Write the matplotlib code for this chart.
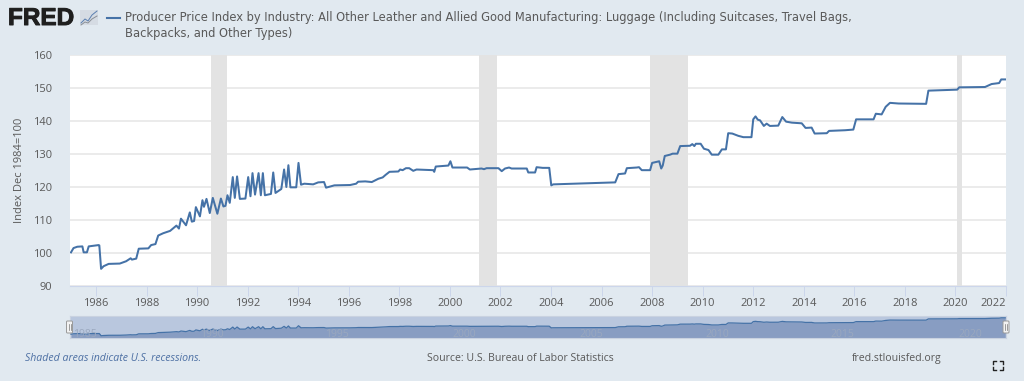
#!/usr/bin/env python3
"""FRED chart: PPI for luggage manufacturing, with recession bands and navigator."""

import matplotlib

matplotlib.use("agg")
import matplotlib.pyplot as plt
import matplotlib.patheffects as pe
from matplotlib.patches import FancyBboxPatch, Rectangle

plt.rcParams["font.family"] = ["Open Sans", "DejaVu Sans"]

W, H = 1024, 381
BG = "#e1e9f0"
LINE = "#4572a7"
TEXT = "#595959"
GRID = "#e6e6e6"
BAND = "#e3e3e3"

years = [
    1985.01, 1985.11, 1985.26, 1985.46, 1985.51, 1985.64, 1985.71, 1985.91, 1986.1, 1986.13,
    1986.2, 1986.3, 1986.5, 1986.94, 1987.19, 1987.37, 1987.42, 1987.59, 1987.69, 1988.07,
    1988.18, 1988.35, 1988.46, 1988.66, 1988.93, 1989.18, 1989.28, 1989.36, 1989.56, 1989.71,
    1989.79, 1989.88, 1989.95, 1990.11, 1990.21, 1990.27, 1990.37, 1990.5, 1990.62, 1990.8,
    1990.94, 1991.04, 1991.12, 1991.2, 1991.29, 1991.41, 1991.49, 1991.58, 1991.69, 1991.91,
    1992.02, 1992.11, 1992.19, 1992.29, 1992.43, 1992.52, 1992.6, 1992.68, 1992.92, 1993.01,
    1993.1, 1993.33, 1993.44, 1993.53, 1993.61, 1993.69, 1993.92, 1994.01, 1994.11, 1994.24,
    1994.59, 1994.79, 1995.02, 1995.1, 1995.43, 1996.05, 1996.29, 1996.37, 1996.65, 1996.91,
    1997.17, 1997.34, 1997.46, 1997.61, 1997.96, 1998.03, 1998.13, 1998.26, 1998.39, 1998.55,
    1998.68, 1999.34, 1999.38, 1999.44, 1999.94, 2000.02, 2000.1, 2000.68, 2000.79, 2001.25,
    2001.35, 2001.45, 2001.92, 2002.05, 2002.18, 2002.34, 2002.44, 2003.04, 2003.1, 2003.37,
    2003.43, 2003.67, 2003.93, 2004.01, 2004.09, 2004.88, 2005.67, 2006.54, 2006.67, 2006.93,
    2007.0, 2007.39, 2007.48, 2007.59, 2007.92, 2008.0, 2008.28, 2008.36, 2008.42, 2008.5,
    2008.71, 2008.81, 2009.0, 2009.11, 2009.5, 2009.59, 2009.67, 2009.73, 2009.92, 2010.05,
    2010.23, 2010.36, 2010.62, 2010.76, 2010.92, 2011.01, 2011.17, 2011.41, 2011.61, 2011.93,
    2012.0, 2012.09, 2012.18, 2012.27, 2012.42, 2012.53, 2012.66, 2012.99, 2013.15, 2013.3,
    2013.53, 2013.92, 2014.07, 2014.31, 2014.43, 2014.91, 2015.0, 2015.63, 2015.96, 2016.07,
    2016.76, 2016.85, 2017.08, 2017.24, 2017.41, 2017.75, 2018.84, 2018.93, 2020.07, 2020.15,
    2021.17, 2021.43, 2021.73, 2021.81, 2021.97,
]
index_values = [
    100.2, 101.5, 101.9, 102.0, 100.2, 100.2, 102.0, 102.2, 102.4, 102.3,
    95.2, 96.0, 96.7, 96.8, 97.5, 98.4, 98.0, 98.3, 101.3, 101.4,
    102.4, 102.7, 105.3, 106.0, 106.7, 108.3, 107.4, 110.4, 108.4, 112.3,
    109.5, 109.7, 113.9, 111.1, 116.0, 114.0, 116.4, 112.1, 116.7, 111.9,
    116.5, 114.1, 114.3, 117.5, 115.2, 123.0, 116.7, 123.2, 116.4, 116.5,
    123.0, 117.2, 124.2, 117.7, 124.2, 117.5, 124.2, 117.5, 117.9, 124.4,
    118.2, 119.4, 125.3, 120.0, 126.6, 119.9, 119.9, 127.3, 120.7, 121.0,
    120.8, 121.4, 121.5, 119.8, 120.5, 120.6, 121.0, 121.6, 121.7, 121.5,
    122.5, 122.9, 123.7, 124.6, 124.7, 125.3, 125.1, 125.7, 125.7, 124.9,
    125.3, 125.1, 124.6, 126.2, 126.5, 127.8, 125.9, 125.9, 125.3, 125.6,
    125.4, 125.7, 125.7, 124.8, 125.6, 125.9, 125.6, 125.6, 124.4, 124.4,
    126.0, 125.8, 125.8, 120.5, 120.8, 121.0, 121.2, 121.4, 123.9, 124.1,
    125.7, 125.9, 126.0, 125.1, 125.1, 127.3, 127.8, 125.6, 126.5, 129.4,
    129.8, 130.1, 130.1, 132.4, 132.5, 133.0, 132.4, 133.1, 133.1, 131.6,
    131.2, 129.8, 129.8, 131.4, 131.4, 136.3, 136.2, 135.5, 135.1, 135.1,
    140.5, 141.4, 140.4, 140.2, 138.5, 139.2, 138.5, 138.6, 141.2, 139.8,
    139.5, 139.3, 137.9, 138.0, 136.2, 136.3, 137.0, 137.2, 137.4, 140.5,
    140.5, 142.2, 142.0, 144.3, 145.5, 145.3, 145.2, 149.2, 149.5, 150.2,
    150.3, 151.2, 151.5, 152.6, 152.6,
]

recession_starts = [1990.55, 2001.15, 2007.92, 2020.06]
recession_ends = [1991.17, 2001.85, 2009.42, 2020.24]
x_ticks = list(range(1986, 2023, 2))
y_ticks = [90, 100, 110, 120, 130, 140, 150, 160]
nav_labels = ["1985", "1990", "1995", "2000", "2005", "2010", "2015", "2020"]
nav_label_years = [1985.56, 1990.59, 1995.53, 2000.56, 2005.58, 2010.56, 2015.51, 2020.57]

X_MIN, X_MAX = 1984.97, 2022.0


def axes_px(fig, left, top, right, bottom):
    return fig.add_axes([left / W, 1 - bottom / H, (right - left) / W, (bottom - top) / H])


fig = plt.figure(figsize=(W / 100, H / 100), dpi=100, facecolor=BG)

# Overlay in pixel coordinates for the page furniture.
page = fig.add_axes([0, 0, 1, 1], zorder=5)
page.set_xlim(0, W)
page.set_ylim(H, 0)
page.axis("off")

# Main plot.
ax = axes_px(fig, 70, 55, 1006, 286)
ax.set_xlim(X_MIN, X_MAX)
ax.set_ylim(90, 160)
ax.set_facecolor("white")
for side in ["top", "left", "right"]:
    ax.spines[side].set_visible(False)
ax.spines["bottom"].set_color("#ccd6eb")
ax.spines["bottom"].set_linewidth(0.8)
ax.set_yticks(y_ticks)
ax.set_xticks(x_ticks)
ax.tick_params(axis="y", length=0, labelsize=8, labelcolor=TEXT, pad=13)
ax.tick_params(axis="x", length=7, width=0.7, color="#ccd6eb", labelsize=8, labelcolor=TEXT, pad=2)
ax.get_xticklabels()[-1].set_ha("right")  # last label is pushed inside the chart edge
ax.grid(axis="y", color=GRID, linewidth=1.1, zorder=1)
ax.set_axisbelow(True)
for start, end in zip(recession_starts, recession_ends):
    ax.axvspan(start, end, facecolor=BAND, edgecolor="none", zorder=2)
ax.plot(years, index_values, color=LINE, linewidth=1.45, solid_joinstyle="round", zorder=3)
ax.set_ylabel("Index Dec 1984=100", fontsize=8, color=TEXT, labelpad=0)
ax.yaxis.set_label_coords(-0.048, 0.5)

# Navigator strip.
nav = axes_px(fig, 70, 316, 1006, 338)
nav.set_xlim(X_MIN, X_MAX)
nav.set_ylim(88, 158.5)
nav.set_facecolor("#b9c7de")
nav.set_xticks([])
nav.set_yticks([])
for spine in nav.spines.values():
    spine.set_color("#c9d2e0")
    spine.set_linewidth(0.8)
nav.fill_between(years, index_values, 88, color="#889dc2", linewidth=0, zorder=2)
nav.plot(years, index_values, color=LINE, linewidth=0.9, zorder=3)
for label_year, text in zip(nav_label_years, nav_labels):
    nav.text(label_year, 99, text, fontsize=7.5, color="#9aa8bf", ha="center", va="center", zorder=4)

for hx in [69.5, 1006]:
    page.add_patch(FancyBboxPatch((hx - 3, 321), 6, 12, boxstyle="round,pad=0,rounding_size=1",
                                  facecolor="#f2f2f2", edgecolor="#999999", linewidth=0.7))
    page.plot([hx - 1, hx - 1], [324, 330], color="#777777", linewidth=0.5)
    page.plot([hx + 1, hx + 1], [324, 330], color="#777777", linewidth=0.5)

# Header: logo, legend key, title.
page.text(8, 18.5, "FRED", fontsize=17.5, fontweight="bold", color="#1f1f1f", family="Liberation Sans",
          ha="left", va="center", path_effects=[pe.withStroke(linewidth=0.7, foreground="#1f1f1f")])
page.add_patch(Rectangle((80, 10), 18, 15, facecolor="#d5dbe3", edgecolor="none"))
page.plot([81, 85, 88, 92, 97], [23, 19, 21, 15, 11], color="#5b7fb0", linewidth=0.7)
page.plot([81, 85, 88, 92, 97], [25, 22, 23, 19, 16], color="#8a8f96", linewidth=0.7)
page.plot([107, 120], [18, 18], color=LINE, linewidth=1.5)
page.text(125, 18, "Producer Price Index by Industry: All Other Leather and Allied Good Manufacturing: "
          "Luggage (Including Suitcases, Travel Bags,", fontsize=8.3, color=TEXT, ha="left", va="center",
          family="DejaVu Sans")
page.text(125, 33, "Backpacks, and Other Types)", fontsize=8.3, color=TEXT, ha="left", va="center",
          family="DejaVu Sans")

# Footer.
page.text(25, 358.5, "Shaded areas indicate U.S. recessions.", fontsize=7.6, color="#4c6fa3", style="italic",
          ha="left", va="center")
page.text(427, 358.5, "Source: U.S. Bureau of Labor Statistics", fontsize=7.6, color=TEXT, ha="left", va="center")
page.text(852, 358.5, "fred.stlouisfed.org", fontsize=7.6, color=TEXT, ha="left", va="center")

# Fullscreen icon: four corner brackets.
for cx, cy, dx, dy in [(993, 361, 1, 1), (1003, 361, -1, 1), (993, 370, 1, -1), (1003, 370, -1, -1)]:
    page.plot([cx + 3 * dx, cx, cx], [cy, cy, cy + 3 * dy], color="#222222", linewidth=1)

fig.savefig("out.png", dpi=100, facecolor=BG)
